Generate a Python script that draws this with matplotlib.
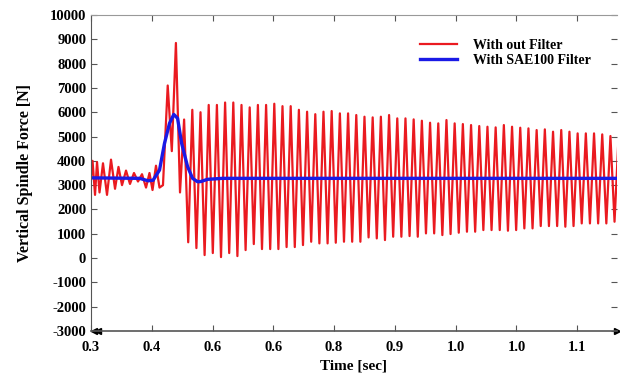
import numpy as np
import matplotlib
matplotlib.use("Agg")
from matplotlib import pyplot as plt

# unfiltered signal before the impact (time [s], force [N])
pre_t = [0.3000, 0.3025, 0.3066, 0.3099, 0.3140, 0.3197, 0.3263, 0.3329, 0.3395,
         0.3452, 0.3510, 0.3576, 0.3641, 0.3707, 0.3773, 0.3839, 0.3905, 0.3962,
         0.4012, 0.4069, 0.4127, 0.4184]
pre_f = [3300, 4000, 2600, 3950, 2700, 3900, 2600, 4050, 2850, 3750, 3000, 3600,
         3050, 3500, 3150, 3450, 2900, 3500, 2800, 3800, 2900, 3000]

# after the impact: alternating peaks / troughs
t_first_peak = 0.4262
period = 0.01349
peaks = [7100, 8850, 5700, 6100, 6000, 6300, 6300, 6400, 6400, 6300, 6200, 6300,
         6300, 6350, 6250, 6250, 6100, 6022, 5920, 6022, 6049, 5953, 5953, 5885,
         5816, 5788, 5816, 5885, 5747, 5747, 5706, 5651, 5569, 5542, 5679, 5542,
         5514, 5473, 5432, 5404, 5377, 5473, 5404, 5363, 5336, 5267, 5295, 5199,
         5267, 5199, 5130, 5130, 5130, 5089, 5021, 5062]
troughs = [4400, 2700, 650, 411, 123, 206, 41, 206, 82, 329, 576, 370, 370, 370,
           453, 453, 535, 672, 604, 604, 631, 672, 672, 672, 850, 809, 741, 878,
           878, 905, 878, 1015, 1015, 946, 988, 1043, 1084, 1084, 1152, 1152, 1152,
           1125, 1152, 1221, 1221, 1317, 1317, 1317, 1290, 1317, 1426, 1426, 1426,
           1426, 1495]

# SAE100 filtered signal
filt_t = [0.3000, 0.3800, 0.3938, 0.4020, 0.4127, 0.4209, 0.4291, 0.4362, 0.4424,
          0.4491, 0.4589, 0.4671, 0.4754, 0.4808, 0.4918, 0.5164, 1.1700]
filt_f = [3300, 3280, 3180, 3200, 3620, 4720, 5540, 5910, 5750, 4720, 3760, 3280,
          3140, 3150, 3240, 3280, 3280]

xtick_pos = [0.3, 0.4, 0.5, 0.6, 0.7, 0.8, 0.9, 1.0, 1.1]
xtick_lab = ["0.3", "0.4", "0.6", "0.6", "0.8", "0.9", "1.0", "1.0", "1.1"]
ytick_pos = list(range(-3000, 10001, 1000))

# build the post-impact series: peak, trough, peak, ...
post_t = []
post_f = []
for i in range(len(peaks)):
    post_t.append(t_first_peak + i * period)
    post_f.append(peaks[i])
    if i < len(troughs):
        post_t.append(t_first_peak + (i + 0.5) * period)
        post_f.append(troughs[i])

raw_t = np.array(pre_t + post_t)
raw_f = np.array(pre_f + post_f)

plt.rcParams['font.family'] = ['Liberation Serif', 'DejaVu Serif']
plt.rcParams['font.weight'] = 'bold'
plt.rcParams['axes.unicode_minus'] = False

fig = plt.figure(figsize=(6.2, 3.83), dpi=100)
ax = fig.add_axes([0.1468, 0.1358, 0.848, 0.825])

ax.plot(raw_t, raw_f, color="#ea1a20", lw=1.6, solid_joinstyle="round",
        label="With out Filter")
ax.plot(filt_t, filt_f, color="#1a1ae6", lw=2.4, solid_joinstyle="round",
        label="With SAE100 Filter")

ax.set_xlim(0.3, 1.1651)
ax.set_ylim(-3000, 10000)
ax.set_xticks(xtick_pos)
ax.set_xticklabels(xtick_lab)
ax.set_yticks(ytick_pos)
ax.tick_params(axis="both", direction="in", labelsize=10.5, length=4, color="#555555",
               top=True, right=True)
ax.tick_params(axis="x", pad=7)
for lab in ax.get_xticklabels() + ax.get_yticklabels():
    lab.set_fontweight("bold")

ax.spines["right"].set_visible(False)
ax.spines["top"].set_color("#999999")
ax.spines["left"].set_color("#555555")
ax.spines["bottom"].set_color("#555555")
ax.spines["bottom"].set_linewidth(1.2)

# arrow heads on the time axis
ax.plot([1.0], [0.0], marker=">", color="black", markersize=5,
        transform=ax.transAxes, clip_on=False)
ax.plot([0.006, 0.014], [0.0, 0.0], marker="<", ls="none", color="black",
        markersize=4, transform=ax.transAxes, clip_on=False)

ax.set_xlabel("Time [sec]", fontsize=11, fontweight="bold", labelpad=4)
ax.set_ylabel("Vertical Spindle Force [N]", fontsize=11.5, fontweight="bold", labelpad=12)

leg = ax.legend(loc="upper right", bbox_to_anchor=(0.975, 0.965), frameon=False,
                prop={"weight": "bold", "size": 10}, handlelength=2.6,
                handletextpad=1.2, labelspacing=0.2)

fig.savefig("out.png", dpi=100)
